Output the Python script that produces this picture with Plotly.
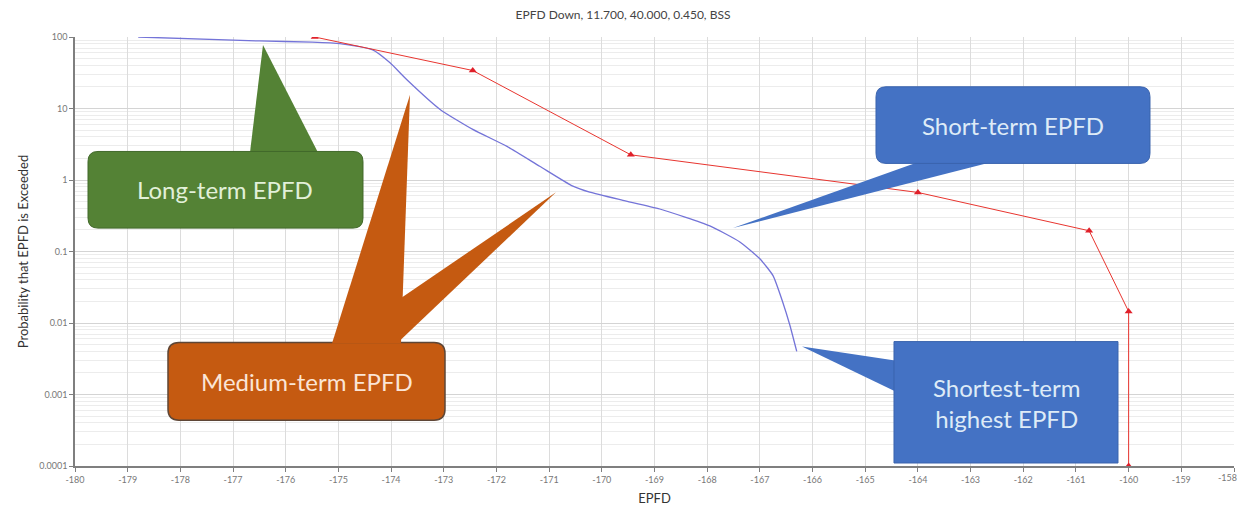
import plotly.graph_objects as go

# ---------------- data ----------------
red_x = [-175.45, -172.45, -169.45, -164.0, -160.75, -160.0, -160.0]
red_y = [100, 34, 2.25, 0.67, 0.195, 0.0145, 0.0001]

blue_x = [-178.8, -176.5, -175.5, -174.97, -174.35, -174.02, -173.7, -173.07, -172.45,
          -171.8, -171.18, -170.55, -170.23, -169.6, -168.9, -167.95, -167.38, -167.0,
          -166.75, -166.57, -166.43, -166.3]
blue_y = [100, 88, 85, 81, 66, 43.5, 25.2, 9.7, 5.1, 2.95, 1.56, 0.82, 0.676, 0.52,
          0.393, 0.228, 0.136, 0.079, 0.046, 0.020, 0.0093, 0.0040]

x_ticks = list(range(-180, -157))
x_tick_text = [str(v) for v in x_ticks]
y_ticks = [100, 10, 1, 0.1, 0.01, 0.001, 0.0001]
y_tick_text = ["100", "10", "1", "0.1", "0.01", "0.001", "0.0001"]

title = "EPFD Down, 11.700, 40.000, 0.450, BSS"
x_title = "EPFD"
y_title = "Probability that EPFD is Exceeded"

callout_texts = ["Long-term EPFD", "Medium-term EPFD", "Short-term EPFD",
                 "Shortest-term<br>highest EPFD"]

# ---------------- geometry (page pixels) ----------------
PAGE_W, PAGE_H = 1247, 517
BODY = 8                      # default body margin of the html page
W, H = PAGE_W - 2 * BODY, PAGE_H - 2 * BODY
L, R, T, B = 75, 1234, 37, 468   # plot area in page pixels


def px(x, y):
    return (x - L) / (R - L), (B - y) / (B - T)


def path_from(points, close=True):
    s = ""
    for cmd, pts in points:
        coords = " ".join("%.5f,%.5f" % px(*p) for p in pts)
        s += cmd + coords + " "
    if close:
        s += "Z"
    return s


def rrect(x0, y0, x1, y1, r):
    return path_from([
        ("M", [(x0 + r, y0)]), ("L", [(x1 - r, y0)]), ("Q", [(x1, y0), (x1, y0 + r)]),
        ("L", [(x1, y1 - r)]), ("Q", [(x1, y1), (x1 - r, y1)]),
        ("L", [(x0 + r, y1)]), ("Q", [(x0, y1), (x0, y1 - r)]),
        ("L", [(x0, y0 + r)]), ("Q", [(x0, y0), (x0 + r, y0)]),
    ])


def poly(pts):
    return path_from([("M", [pts[0]])] + [("L", [p]) for p in pts[1:]])


GREEN = "#548235"
ORANGE = "#c55a11"
BLUE = "#4472c4"

shapes = []


def add(path, fill, line_color=None, lw=0):
    shapes.append(dict(type="path", path=path, xref="paper", yref="paper",
                       fillcolor=fill, layer="above",
                       line=dict(color=line_color or fill, width=lw)))


# Long-term (green)
add(poly([(250, 153), (263, 45), (318, 153)]), GREEN)
add(rrect(88, 152, 363, 229, 10), GREEN, "#41682a", 1)
# Medium-term (orange)
add(rrect(168, 344, 445, 422, 11), ORANGE, "#5e4636", 1.5)
add(poly([(332, 345), (410, 95), (401, 345)]), ORANGE)
add(poly([(400, 300), (556, 193), (400, 342)]), ORANGE)
# Short-term (blue)
add(poly([(917, 163), (733, 229), (990, 163)]), BLUE)
add(rrect(876, 87, 1150, 164, 10), BLUE, "#3a63ad", 1)
# Shortest-term (blue, square)
add(poly([(895, 362), (802, 348), (895, 393)]), BLUE)
add(poly([(894, 343), (1118, 343), (1118, 465), (894, 465)]), BLUE, "#3a63ad", 1)

annotations = []
for txt, (cx, cy), col in zip(callout_texts,
                              [(225, 190), (307, 383), (1013, 126), (1006, 405)],
                              ["#e2f0d9", "#fbe5d6", "#deebf7", "#deebf7"]):
    ax, ay = px(cx, cy)
    annotations.append(dict(text=txt, x=ax, y=ay, xref="paper", yref="paper",
                            showarrow=False, xanchor="center", yanchor="middle",
                            font=dict(family="Lato, Open Sans, sans-serif", size=24, color=col)))

# last x tick label would be hidden at the page edge: draw it flush with the edge
lx, ly = px(BODY + W - 1, 480)
annotations.append(dict(text=x_tick_text[-1], x=lx, y=ly, xref="paper", yref="paper",
                        showarrow=False, xanchor="right", yanchor="middle",
                        borderpad=0, xshift=0,
                        font=dict(family="Lato, sans-serif", size=9, color="#777777")))

fig = go.Figure()
fig.add_trace(go.Scatter(x=blue_x, y=blue_y, mode="lines",
                         line=dict(color="#7474d8", width=1.3, shape="spline", smoothing=0.5),
                         showlegend=False, hoverinfo="skip"))
fig.add_trace(go.Scatter(x=red_x, y=red_y, mode="lines+markers",
                         line=dict(color="#e8352f", width=1),
                         marker=dict(symbol="triangle-up", size=7, color="#e0202a"),
                         showlegend=False, hoverinfo="skip"))

fig.update_layout(
    width=W, height=H,
    margin=dict(l=L - BODY, r=(BODY + W) - R, t=T - BODY, b=(PAGE_H - BODY) - B),
    paper_bgcolor="white", plot_bgcolor="white",
    title=dict(text=title, x=(623 - BODY) / W, xref="container", xanchor="center",
               y=1 - (15 - BODY) / H, yref="container", yanchor="middle",
               font=dict(family="Lato, Open Sans, sans-serif", size=12, color="#444444")),
    xaxis=dict(range=[-180, -158], tickvals=x_ticks, ticktext=x_tick_text,
               showgrid=True, gridcolor="#dcdcdc", gridwidth=1,
               showline=True, linecolor="#7f7f7f", linewidth=1.5,
               ticks="outside", ticklen=4, tickcolor="#7f7f7f",
               tickfont=dict(family="Lato, sans-serif", size=9, color="#777777"),
               title=dict(text=x_title, standoff=10,
                          font=dict(family="Lato, Open Sans, sans-serif", size=13, color="#333333")),
               zeroline=False),
    yaxis=dict(type="log", range=[-4, 2], tickvals=y_ticks, ticktext=y_tick_text,
               showgrid=True, gridcolor="#d4d4d4", gridwidth=1,
               minor=dict(dtick="D1", showgrid=True, gridcolor="#ececec", gridwidth=1),
               showline=True, linecolor="#7f7f7f", linewidth=1.5,
               ticks="outside", ticklen=4, tickcolor="#7f7f7f",
               tickfont=dict(family="Lato, sans-serif", size=9, color="#777777"),
               title=dict(text=y_title, standoff=8,
                          font=dict(family="Lato, Open Sans, sans-serif", size=13, color="#333333")),
               zeroline=False),
    shapes=shapes,
    annotations=annotations,
)

fig.write_html("out.html", config={"displayModeBar": False})
